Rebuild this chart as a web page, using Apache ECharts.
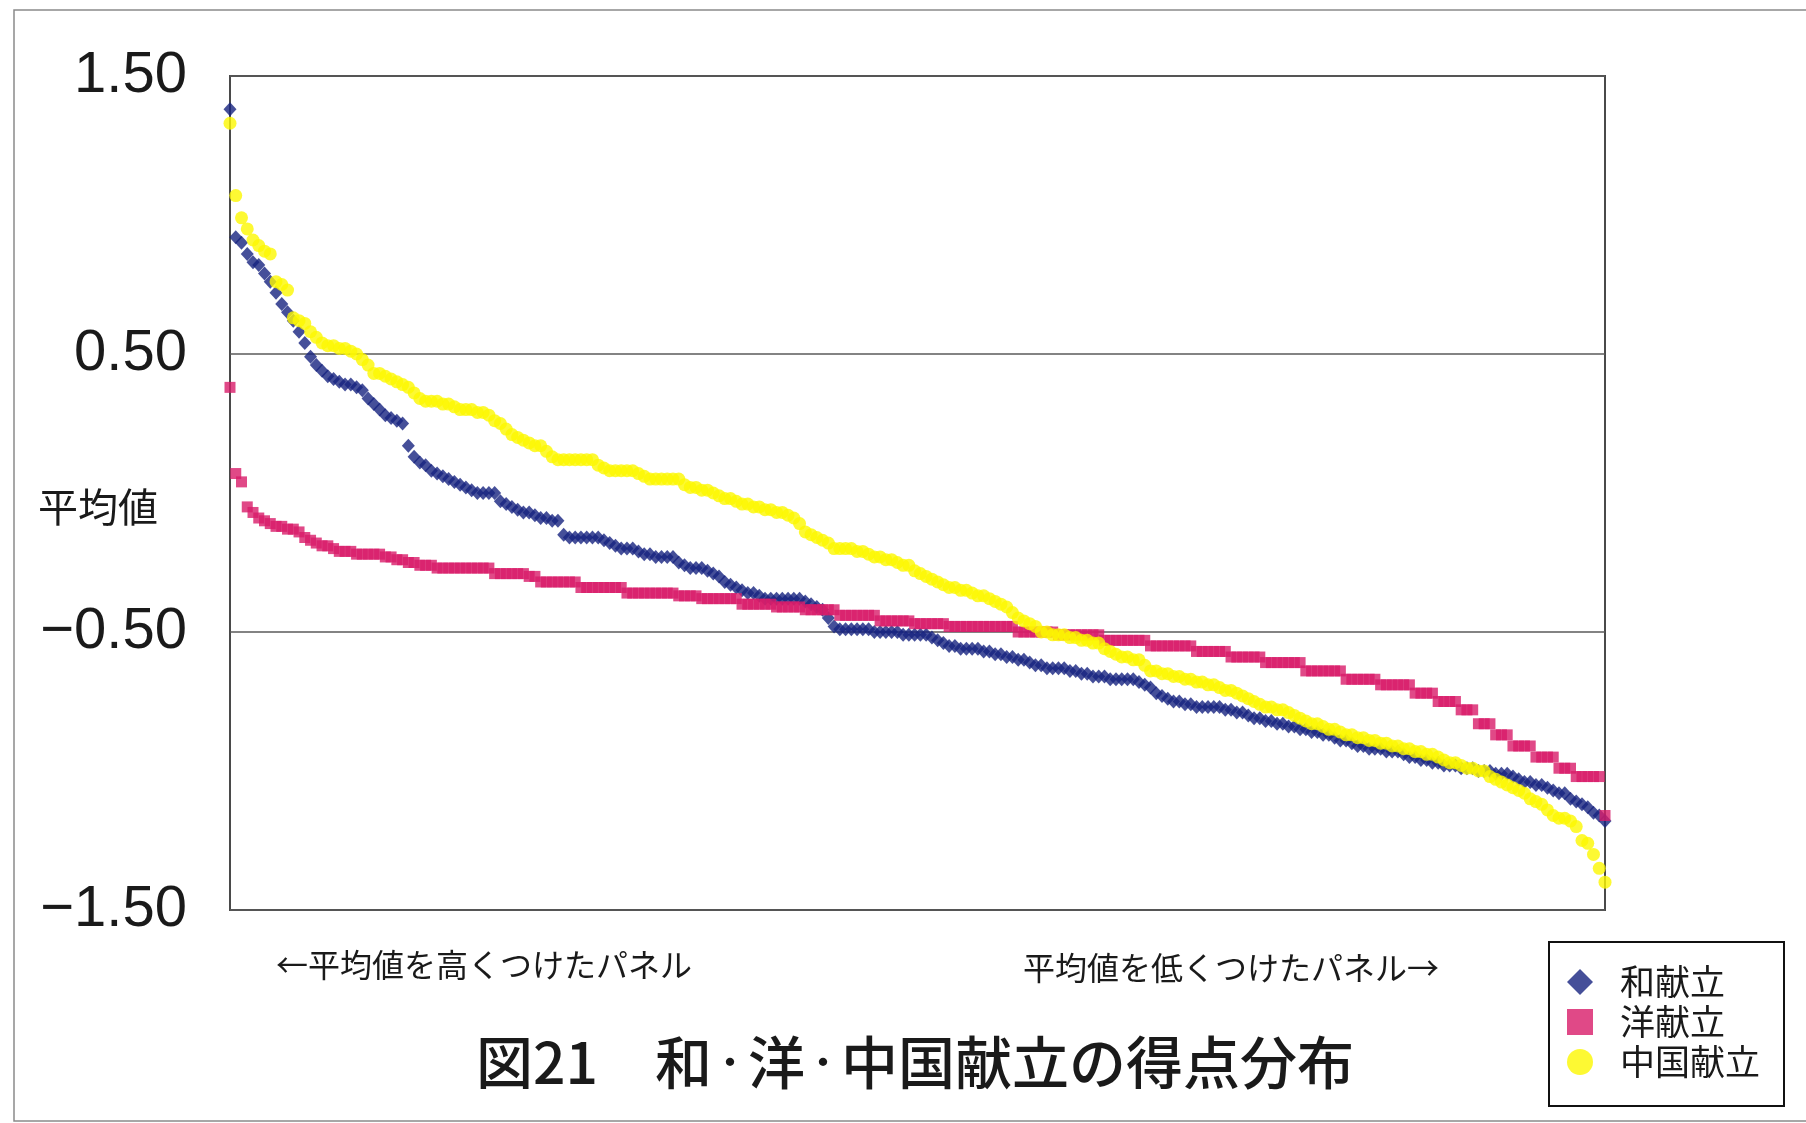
<!DOCTYPE html>
<html>
<head>
<meta charset="utf-8">
<script src="https://cdn.jsdelivr.net/npm/echarts@6/dist/echarts.min.js"></script>
<style>
  html, body { margin: 0; padding: 0; background: #ffffff; }
  #chart { width: 1806px; height: 1123px; }
</style>
</head>
<body>
<div id="chart"></div>
<script>
// Panels ranked by their mean score (rank 1 = highest mean)
const panels = Array.from({ length: 240 }, (_, i) => String(i + 1));

// Y-axis tick values
const yTicks = [-1.5, -0.5, 0.5, 1.5];

const seriesNames = ['和献立', '洋献立', '中国献立'];

// 和献立 mean scores, sorted high to low
const washoku = [
  1.38, 0.92, 0.90, 0.86, 0.83, 0.82, 0.79, 0.76, 0.72, 0.68,
  0.65, 0.62, 0.58, 0.54, 0.49, 0.46, 0.44, 0.42, 0.41, 0.40,
  0.39, 0.39, 0.38, 0.37, 0.34, 0.32, 0.30, 0.28, 0.27, 0.26,
  0.25, 0.17, 0.13, 0.11, 0.10, 0.08, 0.07, 0.06, 0.05, 0.04,
  0.03, 0.02, 0.01, 0.00, 0.00, 0.00, 0.00, -0.03, -0.04, -0.05,
  -0.06, -0.07, -0.07, -0.08, -0.09, -0.09, -0.10, -0.10, -0.15, -0.16,
  -0.16, -0.16, -0.16, -0.16, -0.16, -0.17, -0.18, -0.19, -0.20, -0.20,
  -0.20, -0.21, -0.22, -0.22, -0.23, -0.23, -0.23, -0.23, -0.25, -0.26,
  -0.27, -0.27, -0.27, -0.28, -0.29, -0.30, -0.32, -0.33, -0.34, -0.35,
  -0.36, -0.36, -0.37, -0.38, -0.38, -0.38, -0.38, -0.38, -0.38, -0.38,
  -0.39, -0.40, -0.41, -0.42, -0.45, -0.48, -0.49, -0.49, -0.49, -0.49,
  -0.49, -0.49, -0.50, -0.50, -0.50, -0.50, -0.50, -0.51, -0.51, -0.51,
  -0.51, -0.51, -0.52, -0.53, -0.54, -0.55, -0.55, -0.56, -0.56, -0.56,
  -0.56, -0.57, -0.57, -0.58, -0.58, -0.59, -0.59, -0.60, -0.60, -0.61,
  -0.62, -0.62, -0.63, -0.63, -0.63, -0.63, -0.64, -0.64, -0.65, -0.65,
  -0.66, -0.66, -0.66, -0.67, -0.67, -0.67, -0.67, -0.67, -0.68, -0.69,
  -0.70, -0.72, -0.73, -0.74, -0.75, -0.75, -0.76, -0.76, -0.77, -0.77,
  -0.77, -0.77, -0.77, -0.78, -0.78, -0.79, -0.79, -0.80, -0.81, -0.81,
  -0.82, -0.82, -0.83, -0.83, -0.84, -0.84, -0.85, -0.85, -0.86, -0.86,
  -0.87, -0.87, -0.88, -0.89, -0.89, -0.90, -0.91, -0.91, -0.92, -0.92,
  -0.92, -0.93, -0.93, -0.93, -0.94, -0.95, -0.95, -0.96, -0.96, -0.97,
  -0.97, -0.98, -0.98, -0.98, -0.99, -0.99, -0.99, -1.00, -1.00, -1.00,
  -1.01, -1.01, -1.01, -1.02, -1.03, -1.04, -1.04, -1.05, -1.05, -1.06,
  -1.07, -1.08, -1.08, -1.10, -1.11, -1.12, -1.13, -1.15, -1.16, -1.18
];

// 洋献立 mean scores, sorted high to low
const yoshoku = [
  0.38, 0.07, 0.04, -0.05, -0.07, -0.09, -0.10, -0.11, -0.12, -0.12,
  -0.13, -0.13, -0.14, -0.16, -0.17, -0.18, -0.19, -0.19, -0.20, -0.21,
  -0.21, -0.21, -0.22, -0.22, -0.22, -0.22, -0.22, -0.23, -0.23, -0.24,
  -0.24, -0.25, -0.25, -0.26, -0.26, -0.26, -0.27, -0.27, -0.27, -0.27,
  -0.27, -0.27, -0.27, -0.27, -0.27, -0.27, -0.29, -0.29, -0.29, -0.29,
  -0.29, -0.29, -0.30, -0.30, -0.32, -0.32, -0.32, -0.32, -0.32, -0.32,
  -0.32, -0.34, -0.34, -0.34, -0.34, -0.34, -0.34, -0.34, -0.34, -0.36,
  -0.36, -0.36, -0.36, -0.36, -0.36, -0.36, -0.36, -0.36, -0.37, -0.37,
  -0.37, -0.37, -0.38, -0.38, -0.38, -0.38, -0.38, -0.38, -0.38, -0.40,
  -0.40, -0.40, -0.40, -0.40, -0.40, -0.41, -0.41, -0.41, -0.41, -0.41,
  -0.42, -0.42, -0.42, -0.42, -0.42, -0.42, -0.44, -0.44, -0.44, -0.44,
  -0.44, -0.44, -0.44, -0.46, -0.46, -0.46, -0.46, -0.46, -0.46, -0.47,
  -0.47, -0.47, -0.47, -0.47, -0.47, -0.48, -0.48, -0.48, -0.48, -0.48,
  -0.48, -0.48, -0.48, -0.48, -0.48, -0.48, -0.48, -0.50, -0.50, -0.50,
  -0.50, -0.50, -0.50, -0.50, -0.51, -0.51, -0.51, -0.51, -0.51, -0.51,
  -0.51, -0.51, -0.53, -0.53, -0.53, -0.53, -0.53, -0.53, -0.53, -0.53,
  -0.55, -0.55, -0.55, -0.55, -0.55, -0.55, -0.55, -0.55, -0.57, -0.57,
  -0.57, -0.57, -0.57, -0.57, -0.59, -0.59, -0.59, -0.59, -0.59, -0.59,
  -0.61, -0.61, -0.61, -0.61, -0.61, -0.61, -0.61, -0.64, -0.64, -0.64,
  -0.64, -0.64, -0.64, -0.64, -0.67, -0.67, -0.67, -0.67, -0.67, -0.67,
  -0.69, -0.69, -0.69, -0.69, -0.69, -0.69, -0.72, -0.72, -0.72, -0.72,
  -0.75, -0.75, -0.75, -0.75, -0.78, -0.78, -0.78, -0.83, -0.83, -0.83,
  -0.87, -0.87, -0.87, -0.91, -0.91, -0.91, -0.91, -0.95, -0.95, -0.95,
  -0.95, -0.99, -0.99, -0.99, -1.02, -1.02, -1.02, -1.02, -1.02, -1.16
];

// 中国献立 mean scores, sorted high to low
const chuka = [
  1.33, 1.07, 0.99, 0.95, 0.91, 0.89, 0.87, 0.86, 0.76, 0.75,
  0.73, 0.63, 0.62, 0.61, 0.58, 0.56, 0.54, 0.53, 0.53, 0.52,
  0.52, 0.51, 0.50, 0.48, 0.46, 0.43, 0.43, 0.42, 0.41, 0.40,
  0.39, 0.38, 0.36, 0.34, 0.33, 0.33, 0.33, 0.32, 0.32, 0.31,
  0.30, 0.30, 0.30, 0.29, 0.29, 0.28, 0.26, 0.25, 0.23, 0.21,
  0.20, 0.19, 0.18, 0.17, 0.17, 0.15, 0.13, 0.12, 0.12, 0.12,
  0.12, 0.12, 0.12, 0.12, 0.10, 0.09, 0.08, 0.08, 0.08, 0.08,
  0.08, 0.07, 0.06, 0.05, 0.05, 0.05, 0.05, 0.05, 0.05, 0.03,
  0.02, 0.02, 0.01, 0.01, 0.00, -0.01, -0.02, -0.02, -0.03, -0.04,
  -0.04, -0.05, -0.05, -0.06, -0.06, -0.07, -0.07, -0.08, -0.09, -0.11,
  -0.14, -0.15, -0.16, -0.17, -0.18, -0.20, -0.20, -0.20, -0.20, -0.21,
  -0.21, -0.22, -0.23, -0.23, -0.24, -0.24, -0.25, -0.26, -0.26, -0.28,
  -0.29, -0.30, -0.31, -0.32, -0.33, -0.34, -0.34, -0.35, -0.35, -0.36,
  -0.37, -0.37, -0.38, -0.39, -0.40, -0.41, -0.43, -0.45, -0.46, -0.47,
  -0.48, -0.50, -0.50, -0.51, -0.51, -0.51, -0.52, -0.52, -0.53, -0.53,
  -0.54, -0.54, -0.56, -0.57, -0.58, -0.59, -0.59, -0.60, -0.60, -0.62,
  -0.64, -0.64, -0.65, -0.65, -0.66, -0.66, -0.67, -0.67, -0.68, -0.68,
  -0.69, -0.69, -0.70, -0.71, -0.71, -0.72, -0.73, -0.74, -0.75, -0.76,
  -0.77, -0.77, -0.78, -0.78, -0.79, -0.80, -0.81, -0.82, -0.83, -0.83,
  -0.84, -0.85, -0.85, -0.86, -0.87, -0.87, -0.88, -0.88, -0.89, -0.89,
  -0.90, -0.90, -0.91, -0.91, -0.92, -0.92, -0.93, -0.93, -0.94, -0.94,
  -0.95, -0.96, -0.97, -0.97, -0.98, -0.99, -0.99, -1.00, -1.00, -1.02,
  -1.03, -1.04, -1.05, -1.06, -1.07, -1.08, -1.10, -1.11, -1.12, -1.14,
  -1.16, -1.17, -1.17, -1.18, -1.20, -1.25, -1.26, -1.30, -1.35, -1.40
];

const COLORS = ['#17237f', '#d81b69', '#fdf800'];
const JP = '"Noto Sans CJK JP", "Noto Sans", sans-serif';
const NUM = '"Liberation Sans", Arial, sans-serif';
const INK = '#1a1a1a';

const chart = echarts.init(document.getElementById('chart'), null, { renderer: 'canvas' });

chart.setOption({
  animation: false,
  backgroundColor: '#ffffff',
  grid: {
    left: 230, right: 201, top: 76, bottom: 213,
    show: true, borderColor: '#4a4a4a', borderWidth: 2,
    containLabel: false
  },
  xAxis: {
    type: 'category',
    data: panels,
    boundaryGap: false,
    axisLine: { show: false },
    axisTick: { show: false },
    axisLabel: { show: false },
    splitLine: { show: false }
  },
  yAxis: {
    type: 'value',
    min: yTicks[0],
    max: yTicks[yTicks.length - 1],
    interval: 1,
    axisLine: { show: false },
    axisTick: { show: false },
    splitLine: { show: true, lineStyle: { color: '#5a5a5a', width: 1.5 } },
    axisLabel: {
      margin: 43,
      fontSize: 58,
      fontFamily: NUM,
      color: INK,
      formatter: v => (v < 0 ? '\u2212' : '') + Math.abs(v).toFixed(2)
    }
  },
  legend: {
    orient: 'vertical',
    left: 1549,
    top: 942,
    padding: [22, 24, 26, 18],
    itemWidth: 26,
    itemHeight: 26,
    itemGap: 4,
    borderColor: '#111111',
    borderWidth: 2,
    backgroundColor: '#ffffff',
    textStyle: { fontSize: 35, lineHeight: 36, fontFamily: JP, color: INK, padding: [0, 0, 0, 22] },
    data: [
      { name: seriesNames[0], icon: 'diamond' },
      { name: seriesNames[1], icon: 'rect' },
      { name: seriesNames[2], icon: 'circle' }
    ]
  },
  series: [
    {
      name: seriesNames[0], type: 'scatter', data: washoku,
      symbol: 'diamond', symbolSize: [13, 14],
      itemStyle: { color: COLORS[0] }
    },
    {
      name: seriesNames[1], type: 'scatter', data: yoshoku,
      symbol: 'rect', symbolSize: 11,
      itemStyle: { color: COLORS[1] }
    },
    {
      name: seriesNames[2], type: 'scatter', data: chuka,
      symbol: 'circle', symbolSize: 13,
      itemStyle: { color: COLORS[2] }
    }
  ],
  graphic: [
    {
      type: 'rect', silent: true, z: -1,
      shape: { x: 14, y: 10, width: 2100, height: 1111 },
      style: { fill: null, stroke: '#8a8a8a', lineWidth: 1.5 }
    },
    {
      type: 'text', x: 38, y: 507,
      style: { text: '平均値', fontSize: 40, fontFamily: JP, fill: INK, align: 'left', verticalAlign: 'middle' }
    },
    {
      type: 'text', x: 276, y: 965,
      style: { text: '←平均値を高くつけたパネル', fontSize: 32, fontFamily: JP, fill: INK, align: 'left', verticalAlign: 'middle' }
    },
    {
      type: 'text', x: 1023, y: 968,
      style: { text: '平均値を低くつけたパネル→', fontSize: 32, fontFamily: JP, fill: INK, align: 'left', verticalAlign: 'middle' }
    },
    {
      type: 'text', x: 476, y: 1062,
      style: {
        text: '図21　和{d|・}洋{d|・}中国献立の得点分布',
        fontSize: 57, fontWeight: 500, fontFamily: JP, fill: INK, align: 'left', verticalAlign: 'middle',
        rich: { d: { fontSize: 36, fontWeight: 500, fontFamily: JP, fill: INK } }
      }
    }
  ]
});
</script>
</body>
</html>
